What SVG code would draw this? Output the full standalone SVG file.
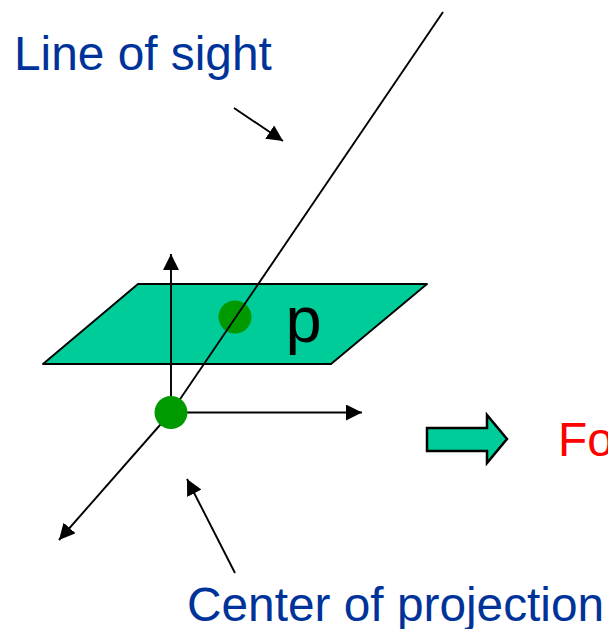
<svg xmlns="http://www.w3.org/2000/svg" width="608" height="629" viewBox="0 0 608 629">
<style>
.c{fill:none;stroke:#000;stroke-width:1.900}
.t{font-family:"Liberation Sans",Arial,sans-serif}
.b{fill:#003399;font-size:47.800px}
</style>
<defs>
<marker id="a" markerUnits="userSpaceOnUse" markerWidth="18" markerHeight="16" refX="16" refY="8" orient="auto"><path d="M0 0L16 8L0 16Z" fill="#000"/></marker>
</defs>
<rect width="608" height="629" fill="#fff"/>
<g id="plane"><path d="M138 284H427L331 364H43Z" fill="#00cc99" stroke="#000" stroke-width="1.900" stroke-linejoin="round"/></g>
<g id="point-p"><circle cx="235" cy="317" r="16.500" fill="#009900"/><text class="t" x="285.500" y="342" font-size="65" fill="#000">p</text></g>
<g id="connectors">
<path class="c" d="M171 412.500V254" marker-end="url(#a)"/>
<path class="c" d="M171 412.500H362" marker-end="url(#a)"/>
<path class="c" d="M443 12L171 412.500"/>
<path class="c" d="M171 412.500L59 540" marker-end="url(#a)"/>
<path class="c" d="M234 108L283 141" marker-end="url(#a)"/>
<path class="c" d="M235 573L187 479" marker-end="url(#a)"/>
</g>
<g id="center"><circle cx="171" cy="412.500" r="16.500" fill="#009900"/></g>
<g id="block-arrow"><path d="M427 428H487V415L507 439L487 463V451H427Z" fill="#00cc99" stroke="#000" stroke-width="2.500"/></g>
<g id="labels">
<text class="t b" x="14" y="70">Line of sight</text>
<text class="t b" x="187" y="621">Center of projection</text>
<text class="t" x="558" y="456" font-size="47.800" fill="#ff0000">Fo</text>
</g>
</svg>
